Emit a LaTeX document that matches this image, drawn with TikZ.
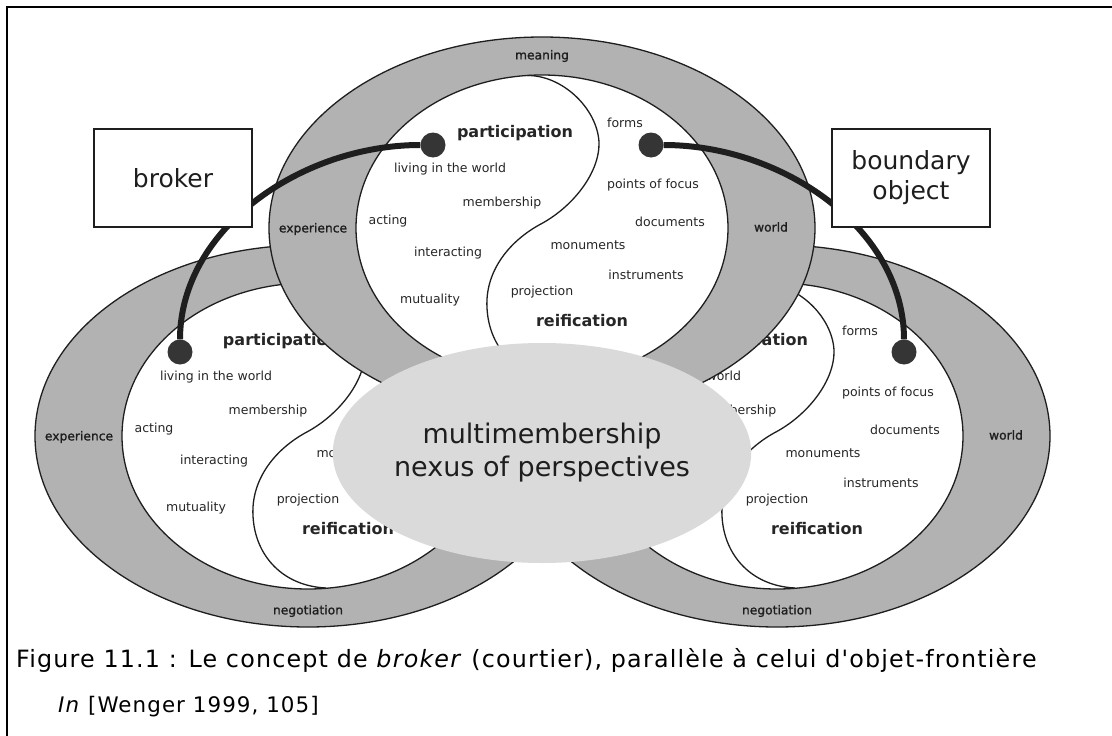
\documentclass[tikz,border=0pt]{standalone}
\usepackage{fontspec}
\setmainfont{DejaVu Sans}
\newfontfamily\captionfont[LetterSpace=5]{DejaVu Sans}
\newfontfamily\ringfont[FakeBold=1.2]{DejaVu Sans}
\usetikzlibrary{shapes.geometric}
\definecolor{RingGray}{HTML}{B2B2B2}
\definecolor{NexusGray}{HTML}{DADADA}
\definecolor{InkDark}{HTML}{1E1E1E}
\definecolor{TextDark}{HTML}{262626}

\tikzset{
  community/.pic={
    % rings, core and the s-shaped divide
    \filldraw[ring] (0,0) ellipse [x radius=273, y radius=191];
    \filldraw[core] (0,0) ellipse [x radius=186, y radius=153];
    \draw[yinyang] (-15,-152.5) .. controls (20,-153) and (55,-120) .. (57,-86)
      .. controls (58,-55) and (30,-20) .. (-3,-3)
      .. controls (-35,15) and (-57,45) .. (-55,80)
      .. controls (-53,120) and (-25,150) .. (18,152);
  }
}

\begin{document}
\begin{tikzpicture}[
    x=1pt, y=-1pt,
    ring/.style={fill=RingGray, draw=InkDark, line width=1.3pt},
    core/.style={fill=white, draw=InkDark, line width=1.3pt},
    yinyang/.style={draw=InkDark, line width=1.3pt},
    lbl/.style={font=\fontsize{12.5}{15}\selectfont, text=TextDark, inner sep=1pt},
    rlbl/.style={lbl, font=\ringfont\fontsize{12.3}{15}\selectfont, text=InkDark},
    key/.style={lbl, font=\bfseries\fontsize{16}{19}\selectfont},
    nexus/.style={ellipse, fill=NexusGray, minimum width=370pt, minimum height=220pt, inner sep=0pt, align=center, font=\fontsize{27}{33}\selectfont, text=InkDark},
    tag/.style={draw=InkDark, line width=1.3pt, fill=white, minimum width=158pt, minimum height=98pt, align=center, font=\fontsize{25}{30}\selectfont, text=InkDark},
    dot/.style={circle, fill=InkDark!90, minimum size=25pt, inner sep=0pt},
    link/.style={draw=InkDark, line width=6pt},
    captext/.style={anchor=west, inner sep=0pt, font=\captionfont\fontsize{23.8}{28}\selectfont},
    frame/.style={draw=black, line width=2pt}
  ]
  \useasboundingbox (0,0) rectangle (1112,736);
  \fill[white] (0,0) rectangle (1112,736);

  % Left community
  \pic (left) at (308,436) {community};
  \begin{scope}[shift={(308,436)}]
    \node[rlbl] (left-experience) at (-229,1) {experience};
    \node[rlbl] (left-negotiation) at (0,175) {negotiation};
    \node[key] (left-participation) at (-27,-95) {participation};
    \node[lbl] (left-living) at (-92,-59) {living in the world};
    \node[lbl] (left-membership) at (-40,-25) {membership};
    \node[lbl] (left-acting) at (-154,-7) {acting};
    \node[lbl] (left-interacting) at (-94,25) {interacting};
    \node[lbl] (left-mutuality) at (-112,72) {mutuality};
    \node[lbl] (left-focus) at (111,-43) {points of focus};
    \node[lbl] (left-monuments) at (46,17) {monuments};
    \node[lbl] (left-projection) at (0,64) {projection};
    \node[key] (left-reification) at (40,93) {reification};
  \end{scope}

  % Right community
  \pic (right) at (777,436) {community};
  \begin{scope}[shift={(777,436)}]
    \node[rlbl] (right-world) at (229,-1) {world};
    \node[rlbl] (right-negotiation) at (0,175) {negotiation};
    \node[key] (right-participation) at (-27,-95) {participation};
    \node[lbl] (right-living) at (-92,-59) {living in the world};
    \node[lbl] (right-membership) at (-40,-25) {membership};
    \node[lbl] (right-forms) at (83,-105) {forms};
    \node[lbl] (right-focus) at (111,-43) {points of focus};
    \node[lbl] (right-documents) at (128,-6) {documents};
    \node[lbl] (right-monuments) at (46,17) {monuments};
    \node[lbl] (right-instruments) at (104,47) {instruments};
    \node[lbl] (right-projection) at (0,64) {projection};
    \node[key] (right-reification) at (40,93) {reification};
  \end{scope}

  % Top community
  \pic (top) at (542,228) {community};
  \begin{scope}[shift={(542,228)}]
    \node[rlbl] (top-meaning) at (0,-172) {meaning};
    \node[rlbl] (top-experience) at (-229,1) {experience};
    \node[rlbl] (top-world) at (229,-1) {world};
    \node[key] (top-participation) at (-27,-95) {participation};
    \node[lbl] (top-living) at (-92,-59) {living in the world};
    \node[lbl] (top-membership) at (-40,-25) {membership};
    \node[lbl] (top-acting) at (-154,-7) {acting};
    \node[lbl] (top-interacting) at (-94,25) {interacting};
    \node[lbl] (top-mutuality) at (-112,72) {mutuality};
    \node[lbl] (top-forms) at (83,-105) {forms};
    \node[lbl] (top-focus) at (111,-43) {points of focus};
    \node[lbl] (top-documents) at (128,-6) {documents};
    \node[lbl] (top-monuments) at (46,17) {monuments};
    \node[lbl] (top-instruments) at (104,47) {instruments};
    \node[lbl] (top-projection) at (0,64) {projection};
    \node[key] (top-reification) at (40,93) {reification};
  \end{scope}

  % Nexus
  \node[nexus] (nexus) at (542,453) {multimembership\\nexus of perspectives};

  % Nodes
  \node[dot] (topdotL) at (433,145) {};
  \node[dot] (topdotR) at (651,145) {};
  \node[dot] (leftdot) at (180,352) {};
  \node[dot] (rightdot) at (904,352) {};

  % Edges
  \draw[link] (topdotL) .. controls +(-133,0) and +(0,-122) .. (leftdot);
  \draw[link] (topdotR) .. controls +(133,0) and +(0,-122) .. (rightdot);

  \node[tag] (broker) at (173,178) {broker};
  \node[tag] (boundary) at (911,178) {boundary\\object};

  % Caption
  \node[captext] (figcap) at (16,660) {Figure 11.1 : Le concept de \textit{broker} (courtier), parallèle à celui d'objet-frontière};
  \node[captext, font=\captionfont\fontsize{21.4}{25}\selectfont] (figsrc) at (58,707) {\textit{In} [Wenger 1999, 105]};

  \draw[frame] (1112,7) -- (7,7) -- (7,736);
\end{tikzpicture}
\end{document}
